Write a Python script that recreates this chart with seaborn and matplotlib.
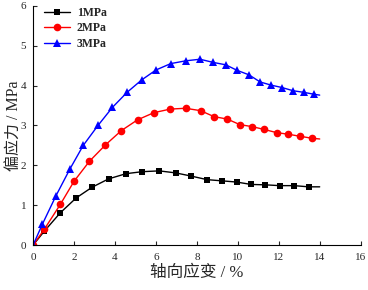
import seaborn as sns
import matplotlib.pyplot as plt

# stress-strain curves
black_x = [0, 0.55, 1.33, 2.1, 2.88, 3.69, 4.54, 5.33, 6.16, 6.96, 7.72, 8.5, 9.23, 9.94, 10.65, 11.35, 12.05, 12.75, 13.46, 14.0]
black_y = [0, 0.35, 0.81, 1.18, 1.45, 1.66, 1.79, 1.84, 1.86, 1.81, 1.73, 1.64, 1.61, 1.58, 1.52, 1.51, 1.49, 1.49, 1.46, 1.46]

red_x = [0, 0.54, 1.33, 2.0, 2.75, 3.53, 4.31, 5.1, 5.9, 6.7, 7.45, 8.18, 8.84, 9.48, 10.1, 10.7, 11.28, 11.89, 12.45, 13.02, 13.6, 14.0]
red_y = [0, 0.39, 1.02, 1.6, 2.1, 2.51, 2.87, 3.14, 3.32, 3.41, 3.43, 3.37, 3.22, 3.16, 3.02, 2.97, 2.9, 2.82, 2.78, 2.73, 2.68, 2.66]

blue_x = [0, 0.45, 1.12, 1.79, 2.45, 3.17, 3.87, 4.59, 5.3, 6.0, 6.72, 7.45, 8.15, 8.8, 9.41, 9.97, 10.54, 11.09, 11.63, 12.16, 12.7, 13.22, 13.74, 14.0]
blue_y = [0, 0.52, 1.24, 1.9, 2.5, 3.0, 3.45, 3.83, 4.14, 4.39, 4.55, 4.62, 4.66, 4.58, 4.52, 4.38, 4.27, 4.09, 4.01, 3.95, 3.87, 3.83, 3.78, 3.76]

labels = ["1MPa", "2MPa", "3MPa"]

sns.set_style("ticks")
plt.rcParams['font.family'] = ['Liberation Serif', 'Noto Sans CJK SC']

fig = plt.figure(figsize=(3.68, 2.90), dpi=100)
ax = fig.add_axes([0.09, 0.155, 0.89, 0.825])

series = [
    (black_x, black_y, "black", "s", 5),
    (red_x, red_y, "red", "o", 5.5),
    (blue_x, blue_y, "blue", "^", 6),
]
for (xs, ys, c, m, ms), lab in zip(series, labels):
    # last point only closes the line, no marker there
    sns.lineplot(x=xs, y=ys, ax=ax, color=c, marker=m, markersize=ms,
                 markeredgewidth=0, linewidth=1, label=lab,
                 markevery=list(range(len(xs) - 1)), sort=False)

ax.set_xlim(0, 16)
ax.set_ylim(0, 6)
ax.set_xticks(range(0, 17, 2))
ax.set_yticks(range(0, 7))
ax.tick_params(direction="in", length=3, width=0.8, labelsize=8)
ax.tick_params(axis="x", pad=6)
ax.tick_params(axis="y", pad=5)
sns.despine(ax=ax)
for s in ["left", "bottom"]:
    ax.spines[s].set_linewidth(0.8)
    ax.spines[s].set_color("black")

ax.set_xlabel("轴向应变 / %", fontsize=12, labelpad=2)
ax.set_ylabel("偏应力 / MPa", fontsize=11.5, labelpad=-1)

ax.legend(loc="upper left", bbox_to_anchor=(0.0, 1.04), frameon=False,
          handlelength=2.2, labelspacing=0.3, handletextpad=0.6,
          prop={'weight': 'bold', 'size': 8.5})

fig.savefig("out.png", dpi=100)
